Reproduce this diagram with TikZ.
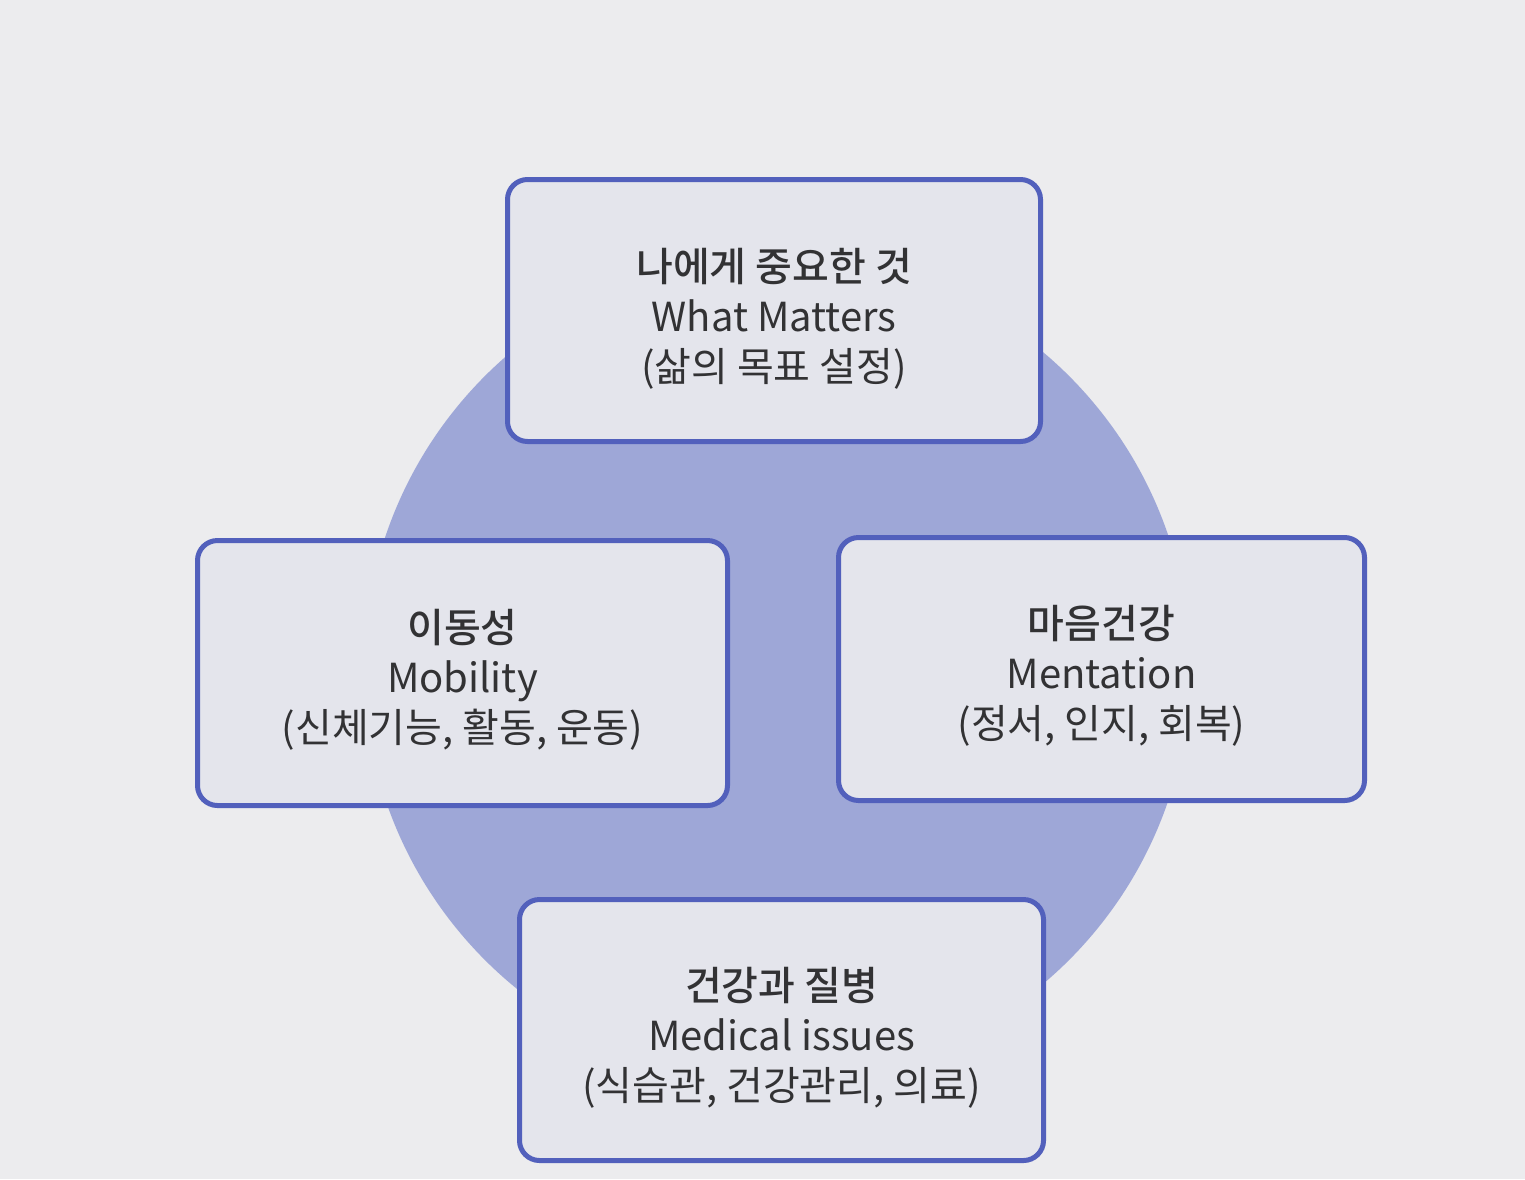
\documentclass[tikz,border=0pt]{standalone}
\usepackage{fontspec}
\setmainfont{Noto Sans CJK KR}
\newfontfamily\krmed{Noto Sans CJK KR Medium}
\definecolor{bgc}{RGB}{236,236,238}
\definecolor{circc}{RGB}{158,167,215}
\definecolor{boxfill}{RGB}{228,229,236}
\definecolor{boxline}{RGB}{82,96,188}
\definecolor{txt}{RGB}{50,50,52}
\begin{document}
\begin{tikzpicture}[x=0.5pt,y=-0.5pt,
  card/.style={draw=boxline, line width=2.5pt, fill=boxfill, rounded corners=10pt, inner sep=0pt},
  cardtext/.style={align=center, text=txt, font=\fontsize{20}{25}\selectfont, inner sep=0pt}]
\fill[bgc] (0,0) rectangle (1525,1179);
\useasboundingbox (0,0) rectangle (1525,1179);
\node[circle, fill=circc, minimum size=413pt, inner sep=0pt] (disc) at (777,668) {};
\node[card, minimum width=266.5pt, minimum height=131pt] (top) at (774,310.5) {};
\node[cardtext] (toptext) at ([yshift=-4pt]top.center)
  {{\krmed 나에게 중요한 것}\\What Matters\\(삶의 목표 설정)};
\node[card, minimum width=265pt, minimum height=132.5pt] (left) at (462.5,673) {};
\node[cardtext] (lefttext) at ([yshift=-3.5pt]left.center)
  {{\krmed 이동성}\\Mobility\\(신체기능, 활동, 운동)};
\node[card, minimum width=263pt, minimum height=131.5pt] (right) at (1101.5,669) {};
\node[cardtext] (righttext) at ([yshift=-3.5pt]right.center)
  {{\krmed 마음건강}\\Mentation\\(정서, 인지, 회복)};
\node[card, minimum width=262pt, minimum height=130.5pt] (bottom) at (781.5,1030) {};
\node[cardtext] (bottomtext) at ([yshift=-4pt]bottom.center)
  {{\krmed 건강과 질병}\\Medical issues\\(식습관, 건강관리, 의료)};
\end{tikzpicture}
\end{document}
